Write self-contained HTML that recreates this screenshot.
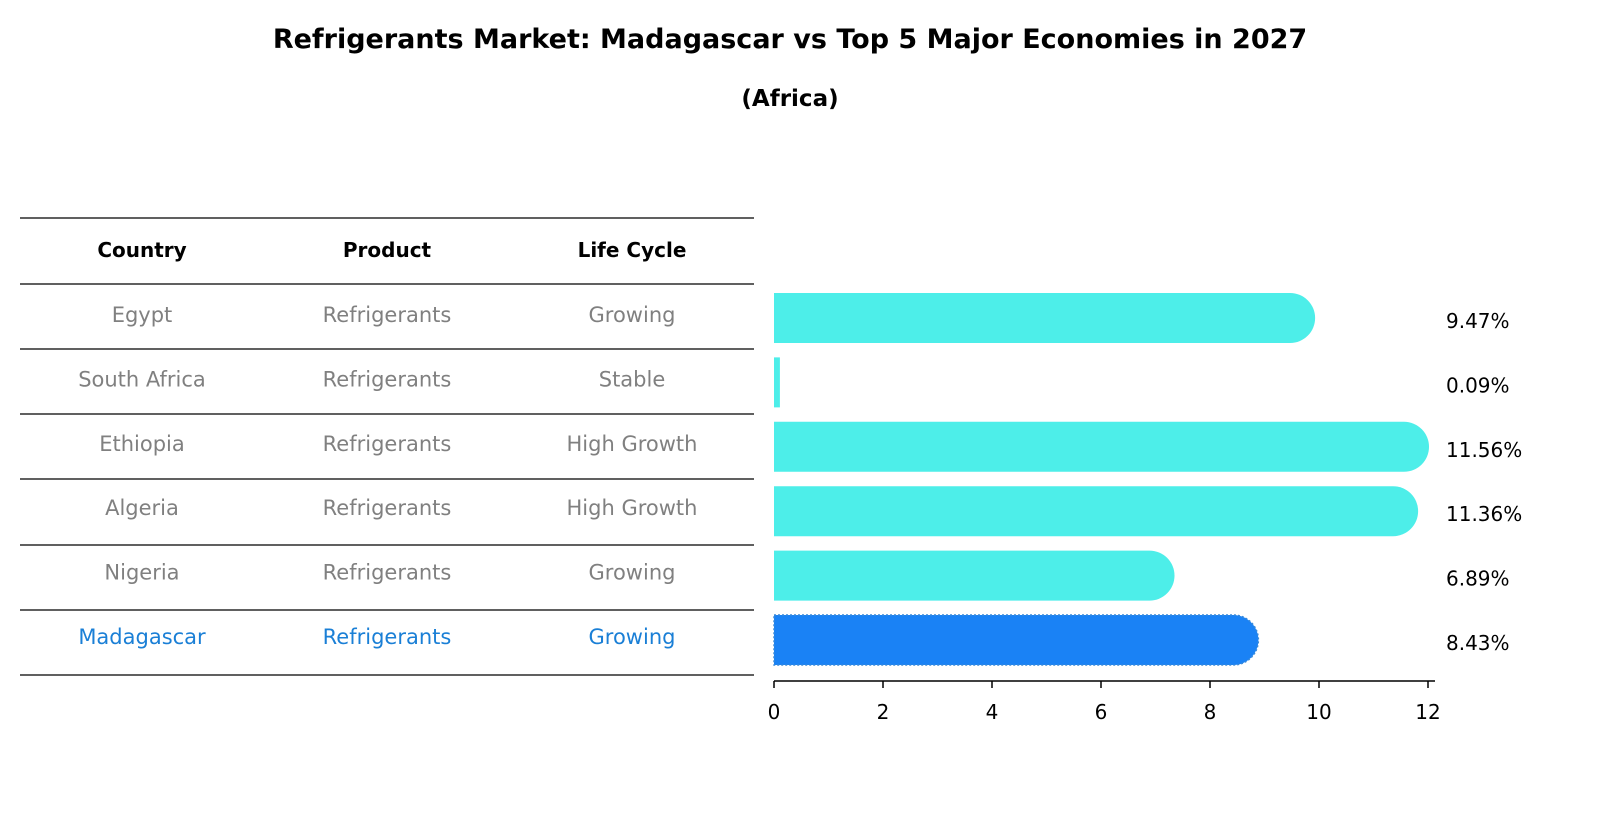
<!DOCTYPE html>
<html><head><meta charset="utf-8"><style>
html,body{margin:0;padding:0;background:#fff;overflow:hidden;width:1604px;height:823px;font-family:"Liberation Sans","DejaVu Sans",sans-serif;}
svg{display:block;}
svg text{font-family:"DejaVu Sans","Liberation Sans",sans-serif;}
</style></head><body>
<svg id="chart" width="1604" height="823" viewBox="0 0 1604 823" xmlns="http://www.w3.org/2000/svg">
<text x="790" y="48" text-anchor="middle" font-size="27" font-weight="bold">Refrigerants Market: Madagascar vs Top 5 Major Economies in 2027</text>
<text x="790" y="106" text-anchor="middle" font-size="23" font-weight="bold">(Africa)</text>
<g id="table"></g>
<g id="bars"></g>
<g id="axis"></g>
</svg>
<script>
const countries = ["Egypt","South Africa","Ethiopia","Algeria","Nigeria","Madagascar"];
const products = ["Refrigerants","Refrigerants","Refrigerants","Refrigerants","Refrigerants","Refrigerants"];
const lifeCycles = ["Growing","Stable","High Growth","High Growth","Growing","Growing"];
const values = [9.47,0.09,11.56,11.36,6.89,8.43];
const ticks = [0,2,4,6,8,10,12];

const NS="http://www.w3.org/2000/svg";
function mk(tag,attrs,parent,text){const e=document.createElementNS(NS,tag);for(const k in attrs)e.setAttribute(k,attrs[k]);if(text!==undefined)e.textContent=text;parent.appendChild(e);return e;}
const x0=774, pxPerUnit=54.5;
const xs=v=>x0+v*pxPerUnit;
const rowY=i=>318+i*64.4;

const table=document.getElementById('table');
const colX=[142,387,632];
const headers=["Country","Product","Life Cycle"];
headers.forEach((h,j)=>{const t=mk('text',{x:colX[j],y:257,'text-anchor':'middle','font-size':20,'font-weight':'bold'},table,h);

});
const lineYs=[218,284,349,414,479,545,610,675];
lineYs.forEach(y=>{const l=mk('line',{x1:20,x2:754,y1:y,y2:y,stroke:'#000','stroke-width':1.2},table);

});
countries.forEach((c,i)=>{
  const col=i===countries.length-1?'#1a7fd6':'#808080';
  [c,products[i],lifeCycles[i]].forEach((v,j)=>{
    const t=mk('text',{x:colX[j],y:rowY(i)+4,'text-anchor':'middle','font-size':21,fill:col},table,v);
    
    
  });
});

const bars=document.getElementById('bars');
const h=50,r=25;
values.forEach((v,i)=>{
  const y=rowY(i)-h/2, xe=xs(v);
  const last=i===values.length-1;
  const fill=last?'#1a82f5':'#4deee9';
  let d;
  if(v*pxPerUnit<10){d=`M${x0},${y} H${xe+1} V${y+h} H${x0} Z`;}
  else d=`M${x0},${y} H${xe} A${r},${r} 0 0 1 ${xe},${y+h} H${x0} Z`;
  const p=mk('path',{d:d,fill:fill},bars);
  if(last){p.setAttribute('stroke','#3a8ad8');p.setAttribute('stroke-dasharray','2 2');p.setAttribute('stroke-width','1.5');}
  
  
  const t=mk('text',{x:1446,y:rowY(i)+10,'font-size':20,fill:'#000'},bars,v.toFixed(2)+'%');
  
  
});

const axis=document.getElementById('axis');
const al=mk('line',{x1:x0,x2:1435,y1:681,y2:681,stroke:'#000','stroke-width':1.5},axis);


ticks.forEach(tv=>{
  const tl=mk('line',{x1:xs(tv),x2:xs(tv),y1:681,y2:688,stroke:'#000','stroke-width':1.5},axis);
  
  
  const tt=mk('text',{x:xs(tv),y:719,'text-anchor':'middle','font-size':20},axis,String(tv));
  
  
});
</script>
</body></html>
